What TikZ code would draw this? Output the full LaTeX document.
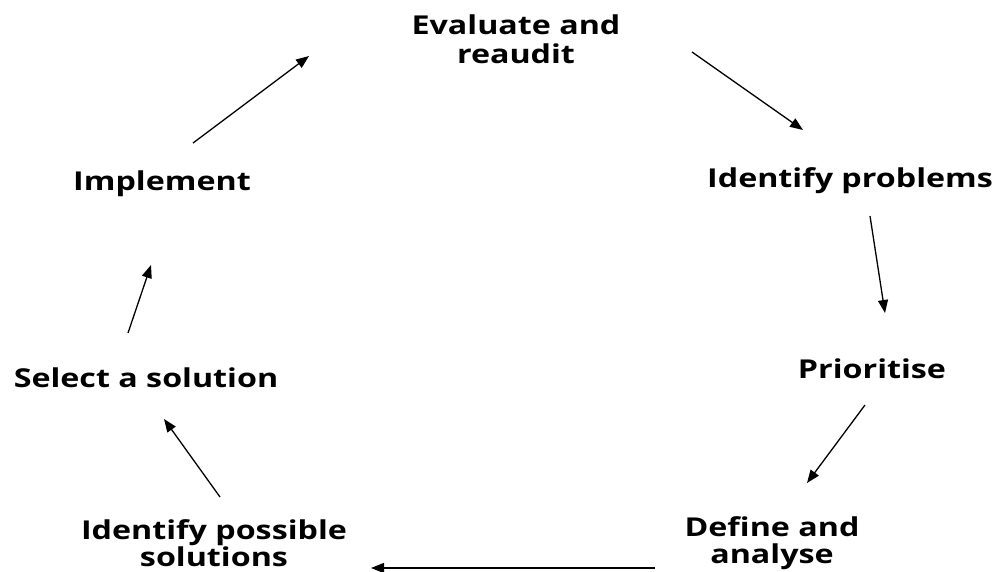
\documentclass[tikz,border=0pt]{standalone}
\usepackage{fontspec}
\setmainfont{Open Sans}[FakeStretch=1.24]
\usetikzlibrary{arrows.meta}
\begin{document}
\begin{tikzpicture}[x=1pt,y=-1pt,
  stage/.style={font=\fontsize{26}{26.5}\selectfont\bfseries, align=center, inner sep=0pt},
  flow/.style={line width=1.3pt, -{Triangle[length=13pt,width=10pt]}}]
\useasboundingbox (0,0) rectangle (1003,572);
% stages of the cycle
\node[stage, font=\fontsize{26}{29}\selectfont\bfseries] (eval) at (516,39) {Evaluate and\\reaudit};
\node[stage] (ident) at (850,181) {Identify problems};
\node[stage] (prio) at (872,369) {Prioritise};
\node[stage] (define) at (772,543) {Define and\\analyse};
\node[stage] (possible) at (214,543) {Identify possible\\solutions};
\node[stage] (select) at (146,378) {Select a solution};
\node[stage] (impl) at (162,184) {Implement};
% arrow end points
\coordinate (a1) at (692,52);  \coordinate (b1) at (803,130);
\coordinate (a2) at (870,216); \coordinate (b2) at (885,313);
\coordinate (a3) at (865,405); \coordinate (b3) at (807,483);
\coordinate (a4) at (655,568); \coordinate (b4) at (371,568);
\coordinate (a5) at (220,497); \coordinate (b5) at (164,419);
\coordinate (a6) at (128,333); \coordinate (b6) at (151,265);
\coordinate (a7) at (193,143); \coordinate (b7) at (309,56);
\draw[flow] (a1) -- (b1);
\draw[flow] (a2) -- (b2);
\draw[flow] (a3) -- (b3);
\draw[flow] (a4) -- (b4);
\draw[flow] (a5) -- (b5);
\draw[flow] (a6) -- (b6);
\draw[flow] (a7) -- (b7);
\end{tikzpicture}
\end{document}
